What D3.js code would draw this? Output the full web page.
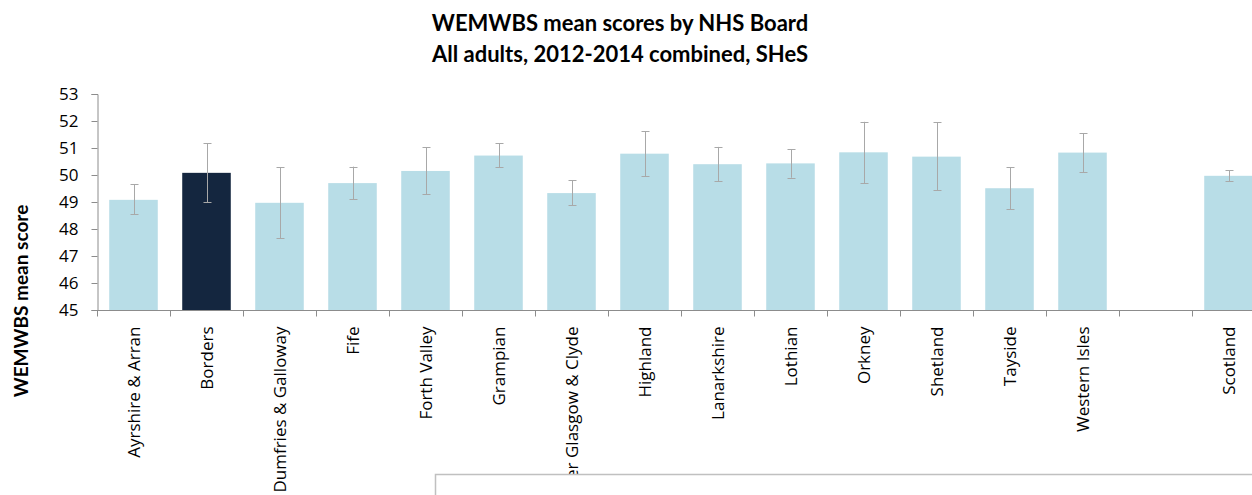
<!DOCTYPE html>
<html>
<head>
<meta charset="utf-8">
<script src="https://cdn.jsdelivr.net/npm/d3@7"></script>
<style>
  html, body { margin: 0; padding: 0; background: #ffffff; }
  svg { display: block; }
</style>
</head>
<body>
<svg id="chart" width="1252" height="495"></svg>
<script>
// NHS Board WEMWBS means with 95% confidence limits (blank slot separates Scotland)
const boards = ["Ayrshire & Arran", "Borders", "Dumfries & Galloway", "Fife", "Forth Valley",
  "Grampian", "Greater Glasgow & Clyde", "Highland", "Lanarkshire", "Lothian", "Orkney",
  "Shetland", "Tayside", "Western Isles", "", "Scotland"];
const meanScore = [49.08, 50.08, 48.97, 49.70, 50.15, 50.72, 49.33, 50.79, 50.40, 50.43, 50.84,
  50.68, 49.51, 50.83, null, 49.97];
const lowerCI = [48.54, 49.00, 47.65, 49.10, 49.29, 50.28, 48.88, 49.95, 49.77, 49.90, 49.70,
  49.43, 48.73, 50.10, null, 49.77];
const upperCI = [49.65, 51.17, 50.28, 50.31, 51.03, 51.17, 49.80, 51.62, 51.04, 50.95, 51.97,
  51.95, 50.28, 51.54, null, 50.17];
const highlighted = "Borders";
const yTicks = [45, 46, 47, 48, 49, 50, 51, 52, 53];
const titleLines = ["WEMWBS mean scores by NHS Board", "All adults, 2012-2014 combined, SHeS"];
const yTitle = "WEMWBS mean score";

const rows = boards.map((b, i) => ({ board: b, key: "k" + i, mean: meanScore[i], lo: lowerCI[i], hi: upperCI[i] }));

const svg = d3.select("#chart");
const plot = { left: 97, top: 94, bottom: 310, step: 73 };

const x = d3.scaleBand()
  .domain(rows.map(d => d.key))
  .range([plot.left, plot.left + plot.step * rows.length])
  .paddingInner(0.335)
  .paddingOuter(0.1675);

const y = d3.scaleLinear().domain([45, 53]).range([plot.bottom, plot.top]);

const axisColor = "#8c8c8c";
const tickFont = "'Open Sans', 'Noto Sans', sans-serif";
const boldFont = "Lato, 'Open Sans', sans-serif";

// title
svg.append("g").selectAll("text").data(titleLines).join("text")
  .attr("x", 620).attr("y", (d, i) => 31 + i * 31)
  .attr("text-anchor", "middle")
  .style("font-family", boldFont).style("font-weight", "bold").style("font-size", "22px")
  .attr("fill", "#000").text(d => d);

// bars
svg.append("g").selectAll("rect").data(rows.filter(d => d.mean != null)).join("rect")
  .attr("x", d => x(d.key))
  .attr("width", x.bandwidth())
  .attr("y", d => y(d.mean))
  .attr("height", d => y(45) - y(d.mean))
  .attr("fill", d => d.board === highlighted ? "#14263f" : "#b8dde7");

// error bars
const eb = svg.append("g").attr("stroke", "#a8a8a8").attr("stroke-width", 1).attr("fill", "none");
const ebRows = rows.filter(d => d.mean != null);
const cx = d => Math.round(x(d.key) + x.bandwidth() / 2) + 0.5;
eb.selectAll("line.v").data(ebRows).join("line").attr("class", "v")
  .attr("x1", cx).attr("x2", cx)
  .attr("y1", d => y(d.lo)).attr("y2", d => y(d.hi));
["lo", "hi"].forEach(k => {
  eb.selectAll("line.c" + k).data(ebRows).join("line").attr("class", "c" + k)
    .attr("x1", d => cx(d) - 4)
    .attr("x2", d => cx(d) + 4)
    .attr("y1", d => Math.round(y(d[k])) + 0.5).attr("y2", d => Math.round(y(d[k])) + 0.5);
});

// y axis
const yAxis = svg.append("g")
  .attr("transform", `translate(${plot.left + 0.5},0)`)
  .call(d3.axisLeft(y).tickValues(yTicks).tickSize(6).tickPadding(13).tickFormat(d3.format("d")));
yAxis.select(".domain").attr("stroke", axisColor);
yAxis.selectAll(".tick line").attr("stroke", axisColor);
yAxis.selectAll(".tick text")
  .style("font-family", tickFont).style("font-size", "17px").attr("fill", "#000");

// x axis with ticks at band boundaries
const xAxis = svg.append("g").attr("transform", `translate(0,${plot.bottom + 0.5})`);
xAxis.append("line")
  .attr("x1", plot.left).attr("x2", plot.left + plot.step * rows.length)
  .attr("stroke", axisColor);
xAxis.selectAll("line.tk").data(d3.range(rows.length + 1)).join("line").attr("class", "tk")
  .attr("x1", i => Math.round(plot.left + i * x.step()) + 0.5)
  .attr("x2", i => Math.round(plot.left + i * x.step()) + 0.5)
  .attr("y1", 0).attr("y2", 6).attr("stroke", axisColor);
xAxis.selectAll("text").data(rows).join("text")
  .attr("transform", d => `translate(${x(d.key) + x.bandwidth() / 2 + 6},16) rotate(-90)`)
  .attr("text-anchor", "end")
  .style("font-family", tickFont).style("font-size", "17px").attr("fill", "#000")
  .text(d => d.board);

// y axis title
svg.append("text")
  .attr("transform", "translate(28,301) rotate(-90)")
  .attr("text-anchor", "middle")
  .style("font-family", boldFont).style("font-weight", "bold").style("font-size", "19px")
  .attr("fill", "#000").text(yTitle);

// framed panel below the chart
svg.append("rect")
  .attr("x", 435.5).attr("y", 474.5).attr("width", 900).attr("height", 100)
  .attr("fill", "#ffffff").attr("stroke", "#c0c0c0").attr("stroke-width", 1.5);
</script>
</body>
</html>
